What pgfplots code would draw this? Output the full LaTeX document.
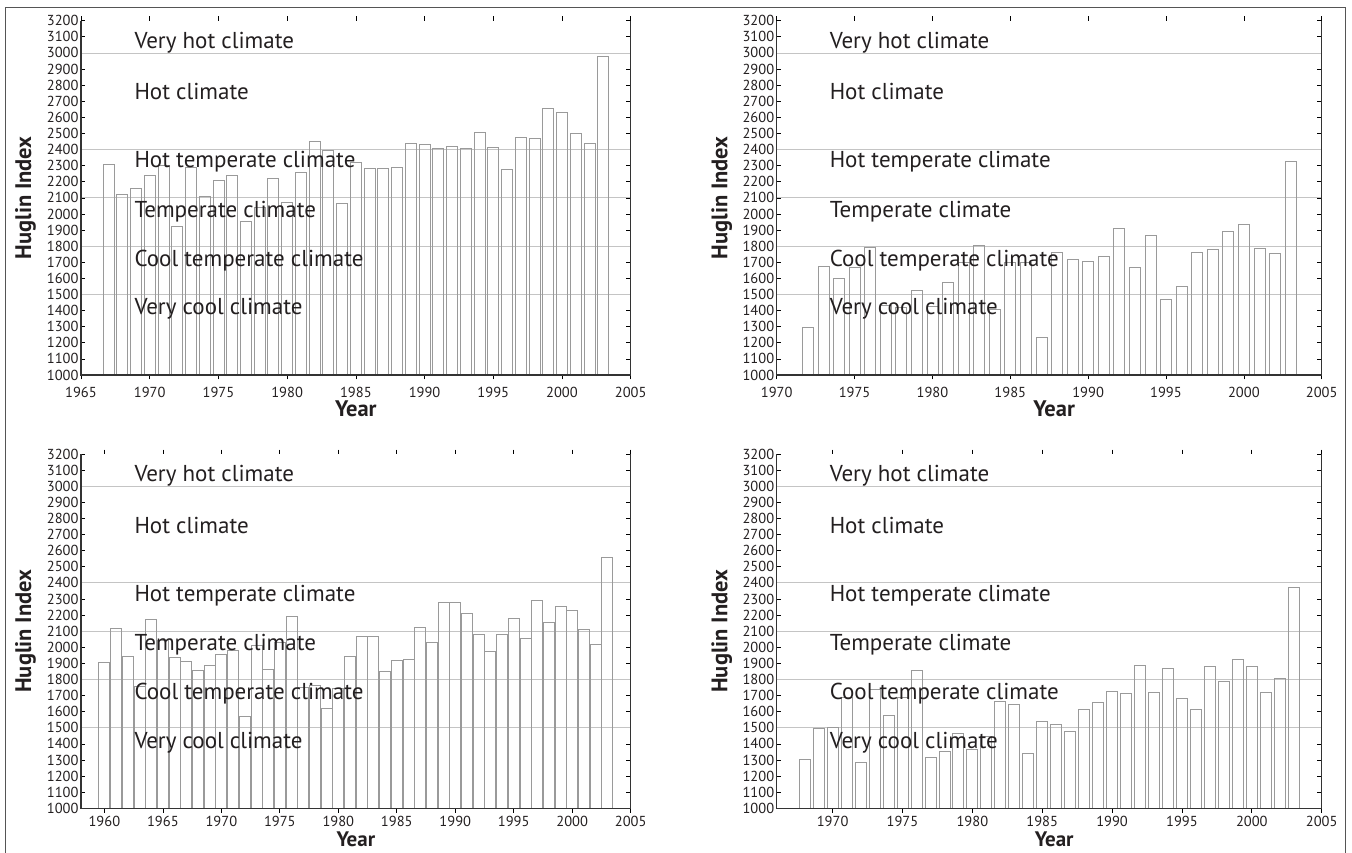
\documentclass[border=0pt]{standalone}
\usepackage{pgfplots}
\pgfplotsset{compat=1.18}
\usepackage{fontspec}
\setmainfont{PT Sans}
\definecolor{txt}{HTML}{231F20}
\definecolor{barc}{HTML}{9A9A9A}
\definecolor{gridc}{HTML}{C4C4C4}
\definecolor{axc}{HTML}{333333}
\definecolor{framec}{HTML}{555555}
\pgfplotsset{
 hug/.style={
  scale only axis, height=354.3pt,
  ymin=1000, ymax=3200, ytick={1000,1100,...,3200},
  separate axis lines, axis line style={draw=none},
  tick style={black, line width=0.7pt}, major tick length=4.3pt,
  tick align=inside,
  ticklabel style={font=\fontsize{14.5}{14.5}\selectfont, text=txt},
  yticklabel style={xshift=1pt},
  /pgf/number format/assume math mode=true,
  /pgf/number format/1000 sep={},
  xticklabel style={yshift=-4.5pt},
  extra y ticks={1500,1800,2100,2400,3000}, extra y tick labels={},
  extra y tick style={grid=major, major tick length=0pt},
  major grid style={gridc, line width=0.8pt},
  ylabel={Huglin Index}, xlabel={Year},
  label style={font=\bfseries\fontsize{22.5}{22.5}\selectfont, text=txt},
  ylabel style={at={(axis description cs:-0.101,0.5)}, anchor=center},
  xlabel style={at={(axis description cs:0.5,0)}, yshift=-41pt, anchor=base, inner sep=0pt},
  ybar, bar width=11pt,
  after end axis/.code={\draw[axc, line width=1.2pt] (rel axis cs:0,1) -- (rel axis cs:0,0) -- (rel axis cs:1,0) -- (rel axis cs:1,1);},
 },
 low/.style={xticklabel style={yshift=4pt}, xlabel style={yshift=2.5pt, font=\bfseries\fontsize{21}{21}\selectfont}},
}
\tikzset{clim/.style={anchor=base west, inner sep=0pt, font=\fontsize{23}{23}\selectfont, text=txt}}
\newcommand{\climlabels}{%
 \node[clim] at (rel axis cs:0.097,0.9227) {Very hot climate};
 \node[clim] at (rel axis cs:0.097,0.7764) {Hot climate};
 \node[clim] at (rel axis cs:0.097,0.585) {Hot temperate climate};
 \node[clim] at (rel axis cs:0.097,0.4455) {Temperate climate};
 \node[clim] at (rel axis cs:0.097,0.306) {Cool temperate climate};
 \node[clim] at (rel axis cs:0.097,0.1695) {Very cool climate};
}
\pgfplotstableread{
year val
1967 2305
1968 2120
1969 2157
1970 2240
1971 2300
1972 1921
1973 2287
1974 2111
1975 2206
1976 2237
1977 1954
1978 2040
1979 2219
1980 2070
1981 2260
1982 2449
1983 2397
1984 2066
1985 2320
1986 2285
1987 2285
1988 2289
1989 2436
1990 2432
1991 2407
1992 2420
1993 2407
1994 2509
1995 2413
1996 2279
1997 2473
1998 2469
1999 2658
2000 2633
2001 2500
2002 2436
2003 2978
}\tl
\pgfplotstableread{
year val
1972 1295
1973 1673
1974 1598
1975 1671
1976 1791
1977 1430
1978 1420
1979 1524
1980 1425
1981 1573
1982 1700
1983 1803
1984 1410
1985 1700
1986 1700
1987 1234
1988 1760
1989 1720
1990 1706
1991 1735
1992 1911
1993 1671
1994 1865
1995 1472
1996 1551
1997 1764
1998 1778
1999 1892
2000 1935
2001 1786
2002 1755
2003 2325
}\tr
\pgfplotstableread{
year val
1960 1904
1961 2118
1962 1944
1963 1757
1964 2173
1965 2040
1966 1938
1967 1913
1968 1859
1969 1888
1970 1954
1971 1980
1972 1569
1973 2010
1974 1865
1975 2030
1976 2190
1977 1749
1978 1764
1979 1623
1980 1747
1981 1945
1982 2070
1983 2068
1984 1853
1985 1917
1986 1923
1987 2126
1988 2029
1989 2277
1990 2277
1991 2211
1992 2080
1993 1977
1994 2078
1995 2178
1996 2053
1997 2291
1998 2153
1999 2256
2000 2227
2001 2109
2002 2016
2003 2558
}\bl
\pgfplotstableread{
year val
1968 1302
1969 1497
1970 1503
1971 1690
1972 1284
1973 1739
1974 1580
1975 1690
1976 1857
1977 1315
1978 1352
1979 1464
1980 1366
1981 1445
1982 1664
1983 1648
1984 1339
1985 1538
1986 1519
1987 1478
1988 1617
1989 1656
1990 1724
1991 1716
1992 1888
1993 1720
1994 1867
1995 1685
1996 1615
1997 1882
1998 1789
1999 1927
2000 1882
2001 1720
2002 1805
2003 2372
}\br
\begin{document}
\begin{tikzpicture}
\path[use as bounding box] (0,0) rectangle (1352pt,-852pt);
\draw[framec, line width=1pt] (5pt,-856pt) -- (5pt,-7.3pt) -- (1345.5pt,-7.3pt) -- (1345.5pt,-856pt);
\begin{axis}[hug, at={(81pt,-375pt)}, anchor=south west, width=549.7pt,
  xmin=1965, xmax=2005, xtick={1965,1970,...,2005}]
\addplot[draw=barc, fill=none, line width=0.8pt] table[x=year,y=val]{\tl};
\climlabels
\end{axis}
\begin{axis}[hug, at={(776.7pt,-375pt)}, anchor=south west, width=545pt,
  xmin=1970, xmax=2005, xtick={1970,1975,...,2005}, xlabel style={xshift=5pt}]
\addplot[draw=barc, fill=none, line width=0.8pt] table[x=year,y=val]{\tr};
\climlabels
\end{axis}
\begin{axis}[hug, low, at={(81pt,-808.3pt)}, anchor=south west, width=549.7pt,
  xmin=1958, xmax=2005, xtick={1960,1965,...,2005}]
\addplot[draw=barc, fill=none, line width=0.8pt] table[x=year,y=val]{\bl};
\climlabels
\end{axis}
\begin{axis}[hug, low, at={(776.7pt,-808.3pt)}, anchor=south west, width=545pt,
  xmin=1966, xmax=2005, xtick={1970,1975,...,2005}, xlabel style={xshift=5pt}]
\addplot[draw=barc, fill=none, line width=0.8pt] table[x=year,y=val]{\br};
\climlabels
\end{axis}
\end{tikzpicture}
\end{document}
